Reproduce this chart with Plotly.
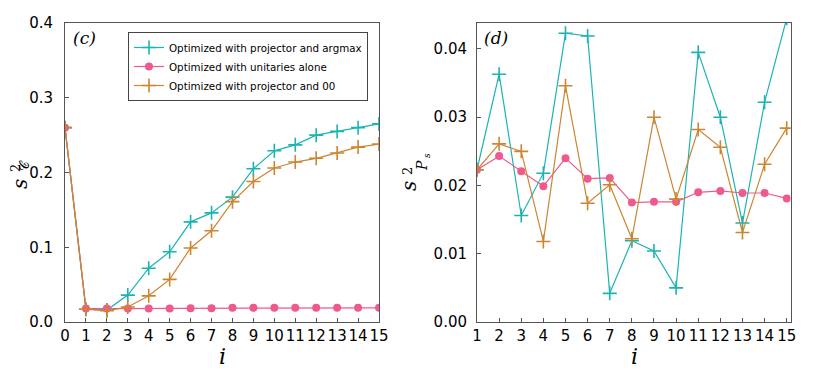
import plotly.graph_objects as go

# panel (c)
i_c = list(range(16))
c_argmax = [0.260, 0.017, 0.016, 0.036, 0.072, 0.094, 0.134, 0.146, 0.167, 0.205,
            0.229, 0.237, 0.250, 0.255, 0.260, 0.265]
c_unitary = [0.260, 0.018, 0.018, 0.018, 0.018, 0.018, 0.0185, 0.0185, 0.019, 0.019,
             0.019, 0.019, 0.019, 0.019, 0.019, 0.019]
c_zero = [0.260, 0.017, 0.015, 0.020, 0.035, 0.057, 0.099, 0.122, 0.161, 0.188,
          0.206, 0.214, 0.219, 0.226, 0.234, 0.238]

# panel (d)
i_d = list(range(1, 16))
d_argmax = [0.0223, 0.0363, 0.0156, 0.0218, 0.0423, 0.0419, 0.0042, 0.0119, 0.0104,
            0.0050, 0.0395, 0.0300, 0.0145, 0.0322, 0.0445]
d_unitary = [0.0223, 0.0243, 0.0221, 0.0199, 0.0240, 0.0210, 0.0211, 0.0175, 0.0176,
             0.0176, 0.0190, 0.0192, 0.0189, 0.0189, 0.0181]
d_zero = [0.0223, 0.0261, 0.0250, 0.0118, 0.0346, 0.0174, 0.0201, 0.0122, 0.0300,
          0.0180, 0.0282, 0.0256, 0.0131, 0.0231, 0.0284]

names = ["Optimized with projector and argmax", "Optimized with unitaries alone",
         "Optimized with projector and 00"]
CYAN = "#1cb3b3"
PINK = "#ee5a8f"
ORANGE = "#cc8530"

fig = go.Figure()

def add(x, y, name, color, kind, xa, ya, show):
    if kind == "plus":
        marker = dict(symbol="cross-thin", size=10, line=dict(color=color, width=1.6))
    else:
        marker = dict(symbol="circle", size=8, color=color)
    fig.add_trace(go.Scatter(x=x, y=y, name=name, mode="lines+markers",
                             line=dict(color=color, width=1.2), marker=marker,
                             xaxis=xa, yaxis=ya, showlegend=show))

add(i_c, c_argmax, names[0], CYAN, "plus", "x", "y", True)
add(i_c, c_unitary, names[1], PINK, "dot", "x", "y", True)
add(i_c, c_zero, names[2], ORANGE, "plus", "x", "y", True)
add(i_d, d_argmax, names[0], CYAN, "plus", "x2", "y2", False)
add(i_d, d_unitary, names[1], PINK, "dot", "x2", "y2", False)
add(i_d, d_zero, names[2], ORANGE, "plus", "x2", "y2", False)

axis_common = dict(showline=True, mirror=True, linecolor="#555555", linewidth=1,
                   ticks="inside", ticklen=4, tickcolor="#555555", showgrid=False,
                   zeroline=False, automargin=False, tickangle=0,
                   tickfont=dict(family="DejaVu Sans", size=15, color="black"))
serif = "DejaVu Serif"
# the page body keeps an 8px margin, so the figure is drawn 8px in from the corner
OFF = 8
W, H = 814 - OFF, 370 - OFF


def fx(x):
    return (x - OFF) / W


def fy(y):
    return 1 - (y - OFF) / H


def note(text, x, y, size, angle=0):
    return dict(text=text, x=fx(x), y=fy(y), xref="paper", yref="paper", showarrow=False,
                xanchor="center", yanchor="middle", textangle=angle,
                font=dict(family=serif, size=size, color="black"))


fig.update_layout(
    width=W, height=H,
    margin=dict(l=0, r=0, t=0, b=0, autoexpand=False),
    plot_bgcolor="white", paper_bgcolor="white",
    xaxis=dict(domain=[fx(65), fx(379)], range=[0, 15], tickvals=i_c, **axis_common),
    yaxis=dict(domain=[fy(322), fy(23)], range=[0, 0.4], tickvals=[0, 0.1, 0.2, 0.3, 0.4],
               tickformat=".1f", ticklabelstandoff=8, **axis_common),
    xaxis2=dict(domain=[fx(477), fx(790.7)], range=[1, 15.18], tickvals=i_d, anchor="y2",
                **axis_common),
    yaxis2=dict(domain=[fy(322), fy(23)], range=[0, 0.0438], anchor="x2",
                tickvals=[0, 0.01, 0.02, 0.03, 0.04], tickformat=".2f",
                ticklabelstandoff=6, **axis_common),
    legend=dict(x=fx(368), y=fy(32), xanchor="right", yanchor="top",
                bordercolor="#444444", borderwidth=1, bgcolor="white",
                font=dict(family="DejaVu Sans", size=10.3, color="black"),
                tracegroupgap=0, itemwidth=30),
    annotations=[
        note("<i>i</i>", 222, 356, 22),
        note("<i>i</i>", 634, 356, 22),
        # y title (c): s^2 with calligraphic C subscript stacked
        note("<i>s</i>", 20, 184, 20, -90),
        note("2", 15, 168, 13, -90),
        note("𝒞", 24, 166, 13, -90),
        # y title (d): s^2 with P_s subscript stacked
        note("<i>s</i>", 409, 186, 20, -90),
        note("2", 407, 171, 13, -90),
        note("<i>P</i>", 422, 165, 14, -90),
        note("<i>s</i>", 427, 156, 9, -90),
        note("<i>(c)</i>", 84, 38, 17),
        note("<i>(d)</i>", 496, 38, 17),
    ],
)

fig.write_html("out.html")
